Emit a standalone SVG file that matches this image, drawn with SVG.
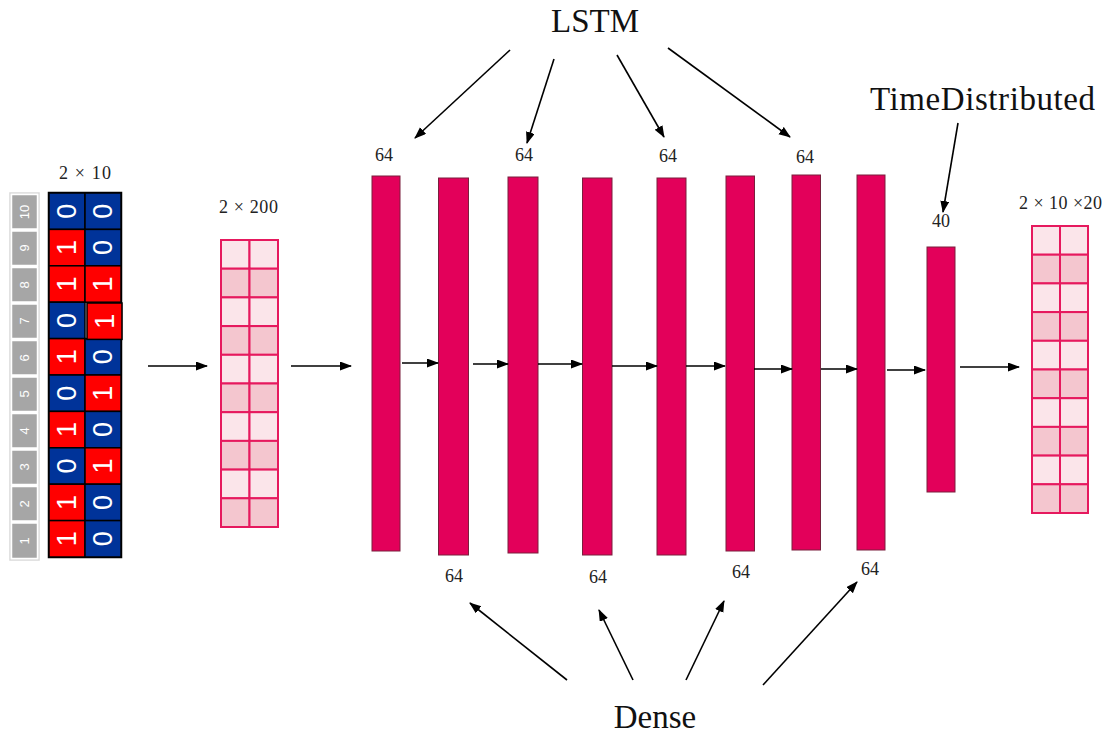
<svg xmlns="http://www.w3.org/2000/svg" width="1110" height="735" viewBox="0 0 1110 735">
<defs>
<marker id="ah" markerUnits="userSpaceOnUse" markerWidth="12" markerHeight="10" refX="11" refY="4.5" orient="auto">
<path d="M0,0 L12,4.5 L0,9 z" fill="#000"/>
</marker>
<style>
.lbl{font-family:"Liberation Serif",serif;font-size:18px;fill:#222;text-anchor:middle}
.big{font-family:"Liberation Serif",serif;font-size:33px;fill:#111;text-anchor:middle}
.bar{fill:#E3005A;stroke:#7A1F3D;stroke-width:1}
.red{fill:#FF0000;stroke:#000;stroke-width:1.5}
.blue{fill:#003399;stroke:#000;stroke-width:1.5}
.dig{font-family:"Liberation Sans",sans-serif;font-size:27px;fill:#fff;text-anchor:middle;dominant-baseline:central}
.idx{fill:#A6A6A6;stroke:#fff;stroke-width:1.5}
.idt{font-family:"Liberation Sans",sans-serif;font-size:13px;fill:#fff;text-anchor:middle;dominant-baseline:central}
.lt{fill:#FBE5EA;stroke:#E6195E;stroke-width:2}
.dk{fill:#F4C6CF;stroke:#E6195E;stroke-width:2}
.con{stroke:#000;stroke-width:1.6;fill:none;marker-end:url(#ah)}
</style>
</defs>
<rect width="1110" height="735" fill="#fff"/>

<g id="input">
<text class="lbl" x="85" y="179" textLength="52">2 × 10</text>
<rect x="10" y="193" width="29" height="367" fill="#fff" stroke="#D9D9D9" stroke-width="1.5"/>
<g id="index">
<rect class="idx" x="11.5" y="194.5" width="26" height="34.5"/>
<rect class="idx" x="11.5" y="231" width="26" height="34.5"/>
<rect class="idx" x="11.5" y="267.5" width="26" height="34.5"/>
<rect class="idx" x="11.5" y="304" width="26" height="34.5"/>
<rect class="idx" x="11.5" y="340.5" width="26" height="34.5"/>
<rect class="idx" x="11.5" y="377" width="26" height="34.5"/>
<rect class="idx" x="11.5" y="413.5" width="26" height="34.5"/>
<rect class="idx" x="11.5" y="450" width="26" height="34.5"/>
<rect class="idx" x="11.5" y="486.5" width="26" height="34.5"/>
<rect class="idx" x="11.5" y="523" width="26" height="35.5"/>
<text class="idt" transform="translate(24.5 212) rotate(-90)">10</text>
<text class="idt" transform="translate(24.5 248) rotate(-90)">9</text>
<text class="idt" transform="translate(24.5 285) rotate(-90)">8</text>
<text class="idt" transform="translate(24.5 321) rotate(-90)">7</text>
<text class="idt" transform="translate(24.5 358) rotate(-90)">6</text>
<text class="idt" transform="translate(24.5 394) rotate(-90)">5</text>
<text class="idt" transform="translate(24.5 431) rotate(-90)">4</text>
<text class="idt" transform="translate(24.5 467) rotate(-90)">3</text>
<text class="idt" transform="translate(24.5 504) rotate(-90)">2</text>
<text class="idt" transform="translate(24.5 541) rotate(-90)">1</text>
</g>
<g id="bits">
<rect x="49" y="193" width="72" height="364" fill="none" stroke="#000" stroke-width="2.5"/>
<rect class="blue" x="49" y="193" width="36" height="36.4"/>
<rect class="blue" x="85" y="193" width="36" height="36.4"/>
<rect class="red" x="49" y="229.4" width="36" height="36.4"/>
<rect class="blue" x="85" y="229.4" width="36" height="36.4"/>
<rect class="red" x="49" y="265.8" width="36" height="36.4"/>
<rect class="red" x="85" y="265.8" width="36" height="36.4"/>
<rect class="blue" x="49" y="302.2" width="36" height="36.4"/>
<rect class="red" x="49" y="338.6" width="36" height="36.4"/>
<rect class="blue" x="85" y="338.6" width="36" height="36.4"/>
<rect class="blue" x="49" y="375" width="36" height="36.4"/>
<rect class="red" x="85" y="375" width="36" height="36.4"/>
<rect class="red" x="49" y="411.4" width="36" height="36.4"/>
<rect class="blue" x="85" y="411.4" width="36" height="36.4"/>
<rect class="blue" x="49" y="447.8" width="36" height="36.4"/>
<rect class="red" x="85" y="447.8" width="36" height="36.4"/>
<rect class="red" x="49" y="484.2" width="36" height="36.4"/>
<rect class="blue" x="85" y="484.2" width="36" height="36.4"/>
<rect class="red" x="49" y="520.6" width="36" height="36.4"/>
<rect class="blue" x="85" y="520.6" width="36" height="36.4"/>
<rect class="red" x="87" y="303" width="35" height="36.4"/>

<text class="dig" transform="translate(67 211.2) rotate(-90)">0</text>
<text class="dig" transform="translate(103 211.2) rotate(-90)">0</text>
<text class="dig" transform="translate(67 247.6) rotate(-90)">1</text>
<text class="dig" transform="translate(103 247.6) rotate(-90)">0</text>
<text class="dig" transform="translate(67 284) rotate(-90)">1</text>
<text class="dig" transform="translate(103 284) rotate(-90)">1</text>
<text class="dig" transform="translate(67 320.4) rotate(-90)">0</text>
<text class="dig" transform="translate(104.5 321.2) rotate(-90)">1</text>
<text class="dig" transform="translate(67 356.8) rotate(-90)">1</text>
<text class="dig" transform="translate(103 356.8) rotate(-90)">0</text>
<text class="dig" transform="translate(67 393.2) rotate(-90)">0</text>
<text class="dig" transform="translate(103 393.2) rotate(-90)">1</text>
<text class="dig" transform="translate(67 429.6) rotate(-90)">1</text>
<text class="dig" transform="translate(103 429.6) rotate(-90)">0</text>
<text class="dig" transform="translate(67 466) rotate(-90)">0</text>
<text class="dig" transform="translate(103 466) rotate(-90)">1</text>
<text class="dig" transform="translate(67 502.4) rotate(-90)">1</text>
<text class="dig" transform="translate(103 502.4) rotate(-90)">0</text>
<text class="dig" transform="translate(67 538.8) rotate(-90)">1</text>
<text class="dig" transform="translate(103 538.8) rotate(-90)">0</text>
</g>
</g>

<g id="embed">
<text class="lbl" x="248.5" y="213" textLength="59">2 × 200</text>
<rect class="lt" x="221" y="240" width="28.5" height="28.7"/><rect class="lt" x="249.5" y="240" width="28.5" height="28.7"/>
<rect class="dk" x="221" y="268.7" width="28.5" height="28.7"/><rect class="dk" x="249.5" y="268.7" width="28.5" height="28.7"/>
<rect class="lt" x="221" y="297.4" width="28.5" height="28.7"/><rect class="lt" x="249.5" y="297.4" width="28.5" height="28.7"/>
<rect class="dk" x="221" y="326.1" width="28.5" height="28.7"/><rect class="dk" x="249.5" y="326.1" width="28.5" height="28.7"/>
<rect class="lt" x="221" y="354.8" width="28.5" height="28.7"/><rect class="lt" x="249.5" y="354.8" width="28.5" height="28.7"/>
<rect class="dk" x="221" y="383.5" width="28.5" height="28.7"/><rect class="dk" x="249.5" y="383.5" width="28.5" height="28.7"/>
<rect class="lt" x="221" y="412.2" width="28.5" height="28.7"/><rect class="lt" x="249.5" y="412.2" width="28.5" height="28.7"/>
<rect class="dk" x="221" y="440.9" width="28.5" height="28.7"/><rect class="dk" x="249.5" y="440.9" width="28.5" height="28.7"/>
<rect class="lt" x="221" y="469.6" width="28.5" height="28.7"/><rect class="lt" x="249.5" y="469.6" width="28.5" height="28.7"/>
<rect class="dk" x="221" y="498.3" width="28.5" height="28.7"/><rect class="dk" x="249.5" y="498.3" width="28.5" height="28.7"/>
</g>

<g id="layers">
<g id="lstm1"><rect class="bar" x="372" y="176" width="28" height="375"/></g>
<g id="dense1"><rect class="bar" x="438.5" y="178" width="30" height="377"/></g>
<g id="lstm2"><rect class="bar" x="508" y="177" width="30" height="376"/></g>
<g id="dense2"><rect class="bar" x="582.5" y="178" width="29.5" height="377"/></g>
<g id="lstm3"><rect class="bar" x="657" y="178" width="29" height="377"/></g>
<g id="dense3"><rect class="bar" x="726" y="176" width="28.5" height="375"/></g>
<g id="lstm4"><rect class="bar" x="792" y="175" width="28.5" height="375"/></g>
<g id="dense4"><rect class="bar" x="857" y="175" width="28" height="375"/></g>
<g id="timedist"><rect class="bar" x="927" y="247" width="28" height="245"/></g>
</g>

<g id="output">
<text class="lbl" x="1060.5" y="209" textLength="83">2 × 10 ×20</text>
<rect class="lt" x="1032" y="226" width="28" height="28.7"/><rect class="lt" x="1060" y="226" width="28" height="28.7"/>
<rect class="dk" x="1032" y="254.7" width="28" height="28.7"/><rect class="dk" x="1060" y="254.7" width="28" height="28.7"/>
<rect class="lt" x="1032" y="283.4" width="28" height="28.7"/><rect class="lt" x="1060" y="283.4" width="28" height="28.7"/>
<rect class="dk" x="1032" y="312.1" width="28" height="28.7"/><rect class="dk" x="1060" y="312.1" width="28" height="28.7"/>
<rect class="lt" x="1032" y="340.8" width="28" height="28.7"/><rect class="lt" x="1060" y="340.8" width="28" height="28.7"/>
<rect class="dk" x="1032" y="369.5" width="28" height="28.7"/><rect class="dk" x="1060" y="369.5" width="28" height="28.7"/>
<rect class="lt" x="1032" y="398.2" width="28" height="28.7"/><rect class="lt" x="1060" y="398.2" width="28" height="28.7"/>
<rect class="dk" x="1032" y="426.9" width="28" height="28.7"/><rect class="dk" x="1060" y="426.9" width="28" height="28.7"/>
<rect class="lt" x="1032" y="455.6" width="28" height="28.7"/><rect class="lt" x="1060" y="455.6" width="28" height="28.7"/>
<rect class="dk" x="1032" y="484.3" width="28" height="28.7"/><rect class="dk" x="1060" y="484.3" width="28" height="28.7"/>
</g>

<g id="labels">
<text class="big" x="595" y="32">LSTM</text>
<text class="big" x="982.5" y="110" textLength="225">TimeDistributed</text>
<text class="big" x="655" y="728">Dense</text>
<text class="lbl" x="384" y="161">64</text>
<text class="lbl" x="524" y="161">64</text>
<text class="lbl" x="668" y="162">64</text>
<text class="lbl" x="805" y="163">64</text>
<text class="lbl" x="454" y="582">64</text>
<text class="lbl" x="598" y="583">64</text>
<text class="lbl" x="741" y="578">64</text>
<text class="lbl" x="870" y="575">64</text>
<text class="lbl" x="941" y="227">40</text>
</g>

<g id="connectors">
<line class="con" x1="148" y1="366" x2="207" y2="366"/>
<line class="con" x1="291" y1="366" x2="351" y2="366"/>
<line class="con" x1="402" y1="363" x2="438" y2="363"/>
<line class="con" x1="473" y1="364" x2="508" y2="364"/>
<line class="con" x1="538" y1="364" x2="582" y2="364"/>
<line class="con" x1="612" y1="366" x2="657" y2="366"/>
<line class="con" x1="686" y1="366" x2="725" y2="366"/>
<line class="con" x1="754" y1="369" x2="792" y2="369"/>
<line class="con" x1="821" y1="369" x2="857" y2="369"/>
<line class="con" x1="887" y1="370" x2="925" y2="370"/>
<line class="con" x1="960" y1="367" x2="1019" y2="367"/>
<line class="con" x1="510" y1="50" x2="415" y2="138"/>
<line class="con" x1="554" y1="59" x2="527" y2="143"/>
<line class="con" x1="617" y1="55" x2="664" y2="137"/>
<line class="con" x1="668" y1="48" x2="790" y2="137"/>
<line class="con" x1="958" y1="123" x2="943" y2="212"/>
<line class="con" x1="567" y1="680" x2="470" y2="603"/>
<line class="con" x1="633" y1="680" x2="599" y2="610"/>
<line class="con" x1="686" y1="680" x2="724" y2="601"/>
<line class="con" x1="763" y1="685" x2="857" y2="582"/>
</g>
</svg>
